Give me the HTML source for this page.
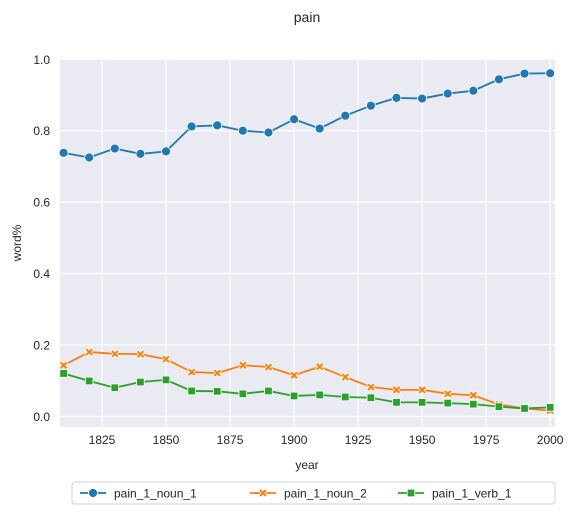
<!DOCTYPE html>
<html><head><meta charset="utf-8"><style>
body{margin:0;background:#fff;font-family:"Liberation Sans",Arial,sans-serif;}
svg text{font-family:"Liberation Sans",Arial,sans-serif;fill:#262626;}
</style></head><body>
<svg id="chart" width="575" height="515" viewBox="0 0 575 515">
<rect x="0" y="0" width="575" height="515" fill="#fff"/>
<text x="307" y="22" text-anchor="middle" font-size="14">pain</text>
<rect x="60" y="58.5" width="495" height="368.5" fill="#eaeaf2"/>
<g id="grid"></g><g id="axes"></g><g id="series"></g>
<text x="307" y="469" text-anchor="middle" font-size="12">year</text>
<text x="21" y="243" text-anchor="middle" font-size="12" transform="rotate(-90 21 243)">word%</text>
<g id="legend">
<rect x="72" y="482" width="483" height="22" rx="3" fill="#fff" stroke="#d0d0d0"/>
</g>
</svg>
<script>
const years=[1810,1820,1830,1840,1850,1860,1870,1880,1890,1900,1910,1920,1930,1940,1950,1960,1970,1980,1990,2000];
const noun1=[0.738,0.725,0.75,0.735,0.742,0.812,0.815,0.80,0.795,0.832,0.806,0.842,0.87,0.892,0.89,0.904,0.912,0.944,0.96,0.961];
const noun2=[0.143,0.18,0.175,0.174,0.16,0.124,0.121,0.143,0.138,0.115,0.139,0.11,0.082,0.074,0.074,0.063,0.059,0.033,0.022,0.016];
const verb1=[0.12,0.099,0.08,0.096,0.102,0.071,0.07,0.063,0.071,0.057,0.06,0.054,0.052,0.039,0.039,0.037,0.034,0.027,0.022,0.025];
const xTicks=[1825,1850,1875,1900,1925,1950,1975,2000];
const yTicks=[0.0,0.2,0.4,0.6,0.8,1.0];
const seriesNames=["pain_1_noun_1","pain_1_noun_2","pain_1_verb_1"];
const NS="http://www.w3.org/2000/svg";
function X(v){return 60+(v-1808.6)/(2001.9-1808.6)*495;}
function Y(v){return 416.3-v*357;}
function mk(tag,attrs,parent){const e=document.createElementNS(NS,tag);for(const k in attrs)e.setAttribute(k,attrs[k]);parent.appendChild(e);return e;}
const grid=document.getElementById('grid'),axes=document.getElementById('axes'),ser=document.getElementById('series');
xTicks.forEach(t=>{
 const l=mk('line',{x1:X(t),x2:X(t),y1:58.5,y2:427,stroke:'#fff','stroke-width':1.2},grid);
 
 
 const tx=mk('text',{x:X(t),y:444,'text-anchor':'middle','font-size':12},axes);tx.textContent=t;
 
 
});
yTicks.forEach(t=>{
 const l=mk('line',{x1:60,x2:555,y1:Y(t),y2:Y(t),stroke:'#fff','stroke-width':1.2},grid);
 
 
 const tx=mk('text',{x:50,y:Y(t)+4.5,'text-anchor':'end','font-size':12},axes);tx.textContent=t.toFixed(1);
 
 
});
const colors=['#1f77b4','#ff7f0e','#2ca02c'];
function marker(kind,x,y,c,parent){
 let m;
 if(kind==0)m=mk('circle',{cx:x,cy:y,r:4.5,fill:c,stroke:'#fff','stroke-width':0.8},parent);
 else if(kind==1)m=mk('path',{d:`M${x-3.5},${y-3.5}L${x+3.5},${y+3.5}M${x-3.5},${y+3.5}L${x+3.5},${y-3.5}`,stroke:'#fff','stroke-width':3.6},parent),
   m=mk('path',{d:`M${x-3},${y-3}L${x+3},${y+3}M${x-3},${y+3}L${x+3},${y-3}`,stroke:c,'stroke-width':2},parent);
 else m=mk('rect',{x:x-3.8,y:y-3.8,width:7.6,height:7.6,fill:c,stroke:'#fff','stroke-width':0.8},parent);
 return m;
}
[noun1,noun2,verb1].forEach((vals,i)=>{
 const g=mk('g',{},ser);
 
 
 mk('polyline',{points:vals.map((v,j)=>X(years[j])+','+Y(v)).join(' '),fill:'none',stroke:colors[i],'stroke-width':1.8},g);
 vals.forEach((v,j)=>{const m=marker(i,X(years[j]),Y(v),colors[i],g);
  
  });
});
const leg=document.getElementById('legend');
const lx=[80,250,398];
seriesNames.forEach((n,i)=>{
 const g=mk('g',{},leg);
 
 
 mk('line',{x1:lx[i],x2:lx[i]+26,y1:493,y2:493,stroke:colors[i],'stroke-width':1.8},g);
 marker(i,lx[i]+13,493,colors[i],g);
 const t=mk('text',{x:lx[i]+34,y:497.5,'font-size':12},g);t.textContent=n;
});
</script>
</body></html>
